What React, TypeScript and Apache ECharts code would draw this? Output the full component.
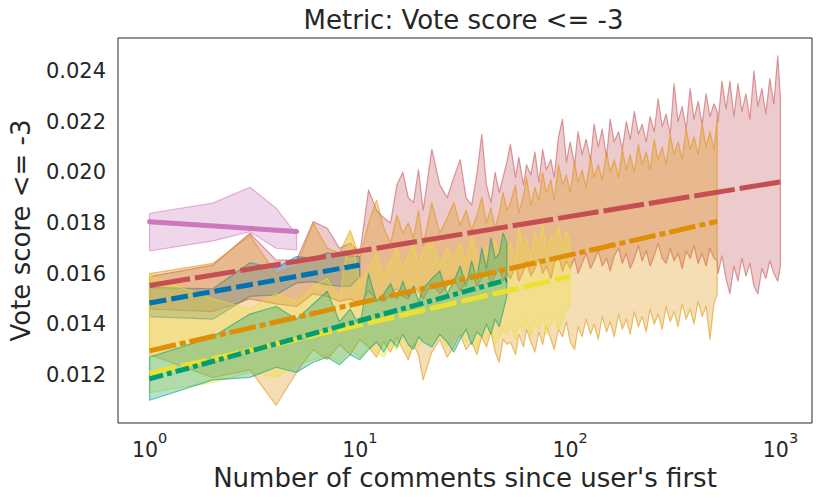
import React, { useEffect, useRef } from "react";
import * as echarts from "echarts";

const FONT = "DejaVu Sans";
const INK = "#262626";

const TITLE = "Metric: Vote score <= -3";
const X_NAME = "Number of comments since user's first";
const Y_NAME = "Vote score <= -3";

// series order: pink, red, blue, orange, yellow, green
const COLORS = ["#CC78BC", "#C44E52", "#0173B2", "#DE8F05", "#ECE133", "#029E73"];
const LINE_START_X = [1, 1, 1, 1, 1, 1];
const LINE_END_X = [5, 1000, 10, 500, 100, 50];
const LINE_START_Y = [0.01805, 0.01553, 0.01484, 0.01295, 0.01206, 0.01184];
const LINE_END_Y = [0.01766, 0.01962, 0.01634, 0.01806, 0.01589, 0.01575];
const LINE_DASH: (number[] | "solid")[] = ["solid", [41, 5], [17, 5], [27, 4, 6, 4], [27, 5], [14, 4, 5, 4]];

// x grids of the confidence bands
const X_INT = [1, 2, 3, 4, 5, 6, 7, 8, 9, 10, 11, 12, 13, 14, 15, 16, 17, 18, 19, 20];
const X_EVEN = [22, 24, 26, 28, 30, 32, 34, 36, 38, 40, 42, 44, 46, 48, 50];
const X_DENSE = [
  52, 55, 57, 60, 62, 65, 68, 71, 74, 77, 81, 84, 88, 92, 96, 100,
  105, 109, 114, 119, 125, 130, 136, 142, 149, 155, 162, 170, 177, 185, 193, 202, 211, 220, 230, 240,
  251, 262, 274, 286, 299, 312, 326, 341, 356, 372, 388, 406, 424, 443, 462, 483, 500,
  505, 527, 551, 575, 601, 628, 656, 685, 716, 748, 781, 816, 852, 890, 930, 971, 1000,
];

const PINK_X = [1, 2, 3, 4, 5];
const PINK_HI = [0.01838, 0.01878, 0.01941, 0.01858, 0.01753];
const PINK_LO = [0.01689, 0.01729, 0.01765, 0.017, 0.01693];

const BLUE_X = [1, 2, 3, 4, 5, 6, 7, 8, 9, 10];
const BLUE_HI = [0.01545, 0.0154, 0.01643, 0.01622, 0.01667, 0.0166, 0.01682, 0.01675, 0.0167, 0.01667];
const BLUE_LO = [0.0143, 0.0142, 0.0151, 0.01516, 0.01563, 0.01568, 0.01555, 0.0155, 0.01549, 0.01588];

const RED_X = [...X_INT, ...X_EVEN, ...X_DENSE];
const RED_HI = [
  0.01588, 0.01633, 0.01759, 0.01653, 0.01653, 0.01805, 0.01779, 0.017, 0.0172, 0.0168,
  0.0193, 0.0185, 0.0182, 0.018, 0.0195, 0.02, 0.019, 0.0188, 0.0201, 0.0185,
  0.0209, 0.0195, 0.019, 0.0198, 0.0205, 0.019, 0.0187, 0.0199, 0.0215, 0.0195, 0.0188, 0.02, 0.0192, 0.0198, 0.0204,
  0.0211, 0.0198, 0.0206, 0.0195, 0.0203, 0.0199, 0.0208, 0.0196, 0.0209, 0.0201, 0.0205, 0.0198, 0.0214, 0.0221, 0.0204, 0.0212,
  0.0203, 0.0216, 0.0207, 0.0213, 0.0205, 0.0219, 0.021, 0.0217, 0.0206, 0.0221,
  0.0212, 0.0216, 0.0209, 0.022, 0.0213, 0.0224, 0.0215, 0.0219, 0.0212, 0.0222,
  0.0216, 0.0229, 0.0218, 0.0223, 0.0215, 0.0235, 0.022, 0.0226, 0.0217, 0.0233,
  0.0221, 0.0228, 0.0219, 0.0231, 0.0222, 0.0227, 0.0224,
  0.022, 0.0236, 0.0225, 0.0236, 0.0222, 0.0235, 0.0224, 0.0231, 0.0221, 0.024,
  0.0226, 0.0233, 0.0223, 0.0237, 0.0227, 0.0246, 0.0229,
];
const RED_LO = [
  0.0146, 0.0145, 0.015, 0.0148, 0.0147, 0.0152, 0.0151, 0.0149, 0.015, 0.0148,
  0.0153, 0.015, 0.0149, 0.0152, 0.0154, 0.0151, 0.015, 0.0155, 0.0153, 0.015,
  0.0156, 0.0152, 0.0155, 0.0158, 0.0153, 0.0157, 0.016, 0.0155, 0.0158, 0.0161, 0.0156, 0.0159, 0.0162, 0.0157, 0.016,
  0.0158, 0.0163, 0.0157, 0.0161, 0.0165, 0.0159, 0.0162, 0.0166, 0.016, 0.0163, 0.0158, 0.0164, 0.0167, 0.0161, 0.0165, 0.0162,
  0.0166, 0.016, 0.0164, 0.0168, 0.0162, 0.0165, 0.0169, 0.0163, 0.0166, 0.0161,
  0.0167, 0.017, 0.0164, 0.0168, 0.0162, 0.0166, 0.0171, 0.0165, 0.0169, 0.0163,
  0.0167, 0.0172, 0.0166, 0.0164, 0.017, 0.0165, 0.0168, 0.0162, 0.0169, 0.0166,
  0.0171, 0.0164, 0.0168, 0.0163, 0.017, 0.0166, 0.0165,
  0.016, 0.0167, 0.0158, 0.0152, 0.0163, 0.0157, 0.0166, 0.0159, 0.0164, 0.0155,
  0.0152, 0.0162, 0.0158, 0.0165, 0.016, 0.0157, 0.0163,
];

const ORANGE_X = [...X_INT, ...X_EVEN, ...X_DENSE.slice(0, 53)];
const ORANGE_HI = [
  0.016, 0.0164, 0.0175, 0.016, 0.0163, 0.018, 0.017, 0.0168, 0.0177, 0.0166,
  0.018, 0.0189, 0.0178, 0.0172, 0.0183, 0.0176, 0.018, 0.0174, 0.0185, 0.0171,
  0.0188, 0.0176, 0.0182, 0.0188, 0.0179, 0.0185, 0.0177, 0.0183, 0.019, 0.018, 0.0186, 0.0178, 0.0184, 0.0192, 0.0185,
  0.0188, 0.0195, 0.0184, 0.0191, 0.0198, 0.0187, 0.0194, 0.0189, 0.02, 0.0192,
  0.0197, 0.0189, 0.0203, 0.0195, 0.0199, 0.0192, 0.0204, 0.0196, 0.0201, 0.0194,
  0.0206, 0.0198, 0.0203, 0.0197, 0.0208, 0.02, 0.0205, 0.0198, 0.0209, 0.0201,
  0.0207, 0.02, 0.0211, 0.0203, 0.0208, 0.0201, 0.0213, 0.0205, 0.021, 0.0203,
  0.0215, 0.0207, 0.0212, 0.0205, 0.0217, 0.0209, 0.0214, 0.0207, 0.0219, 0.021,
  0.0216, 0.0209, 0.0221,
];
const ORANGE_LO = [
  0.0128, 0.0119, 0.0122, 0.0108, 0.0121, 0.013, 0.0126, 0.0132, 0.0128, 0.0134,
  0.0131, 0.0127, 0.0133, 0.0129, 0.0135, 0.013, 0.0126, 0.0132, 0.0128, 0.0118,
  0.0129, 0.0134, 0.0127, 0.0131, 0.0136, 0.013, 0.0133, 0.0128, 0.0135, 0.0131, 0.0137, 0.0129, 0.0125, 0.0134, 0.0132,
  0.0133, 0.0128, 0.0136, 0.0131, 0.0138, 0.0133, 0.0129, 0.0137, 0.0132, 0.0139,
  0.0134, 0.013, 0.0138, 0.0135, 0.0141, 0.0133, 0.013, 0.0139, 0.0135, 0.0142,
  0.0136, 0.014, 0.0134, 0.0143, 0.0137, 0.0141, 0.0135, 0.0144, 0.0138, 0.0142,
  0.0136, 0.0145, 0.0139, 0.0143, 0.0137, 0.0146, 0.014, 0.0144, 0.0138, 0.0147,
  0.0141, 0.0145, 0.0139, 0.0148, 0.0142, 0.0146, 0.014, 0.0149, 0.0143, 0.0147,
  0.0134, 0.0148, 0.0152,
];

const YELLOW_X = [...X_INT, ...X_EVEN, ...X_DENSE.slice(0, 16)];
const YELLOW_HI = [
  0.0159, 0.015, 0.0146, 0.0152, 0.0149, 0.0155, 0.0158, 0.015, 0.0177, 0.0156,
  0.0162, 0.0168, 0.0159, 0.0165, 0.017, 0.0161, 0.0167, 0.0172, 0.0163, 0.0169,
  0.0174, 0.0163, 0.017, 0.0166, 0.0172, 0.0164, 0.0175, 0.0168, 0.0162, 0.0171, 0.0166, 0.0173, 0.0167, 0.0176, 0.0169,
  0.0172, 0.0165, 0.0178, 0.0169, 0.0174, 0.0166, 0.0176, 0.017, 0.018, 0.0168, 0.0175, 0.0171, 0.0179, 0.0169, 0.0177, 0.0173,
];
const YELLOW_LO = [
  0.0113, 0.0117, 0.0121, 0.0119, 0.0124, 0.0126, 0.0128, 0.0125, 0.013, 0.0127,
  0.0131, 0.0129, 0.0127, 0.0132, 0.013, 0.0134, 0.0128, 0.0133, 0.0131, 0.0135,
  0.0132, 0.0136, 0.0131, 0.0134, 0.0138, 0.0133, 0.0136, 0.013, 0.0137, 0.0134, 0.0139, 0.0132, 0.0135, 0.0138, 0.0136,
  0.0139, 0.0134, 0.014, 0.0137, 0.0142, 0.0135, 0.0141, 0.0138, 0.0143, 0.0136, 0.014, 0.0144, 0.0138, 0.0142, 0.0146, 0.0147,
];

const GREEN_X = [...X_INT, ...X_EVEN];
const GREEN_HI = [
  0.0127, 0.0135, 0.0144, 0.0147, 0.0142, 0.0148, 0.0153, 0.0141, 0.0146, 0.0139,
  0.016, 0.0149, 0.0152, 0.0156, 0.015, 0.0157, 0.0151, 0.0155, 0.0149, 0.0154,
  0.0158, 0.0161, 0.0152, 0.0157, 0.0163, 0.0155, 0.0165, 0.0158, 0.017, 0.0162, 0.0174, 0.0166, 0.0168, 0.0176, 0.0172,
];
const GREEN_LO = [
  0.011, 0.0118, 0.0119, 0.0123, 0.0121, 0.0125, 0.0127, 0.0124, 0.0128, 0.0126,
  0.013, 0.0133, 0.0129, 0.0134, 0.0131, 0.0136, 0.0132, 0.013, 0.0135, 0.0133,
  0.0131, 0.0136, 0.0133, 0.0129, 0.0134, 0.0138, 0.0132, 0.0137, 0.0135, 0.014, 0.0136, 0.0142, 0.0139, 0.0145, 0.0151,
];

const BANDS_X = [PINK_X, RED_X, BLUE_X, ORANGE_X, YELLOW_X, GREEN_X];
const BANDS_HI = [PINK_HI, RED_HI, BLUE_HI, ORANGE_HI, YELLOW_HI, GREEN_HI];
const BANDS_LO = [PINK_LO, RED_LO, BLUE_LO, ORANGE_LO, YELLOW_LO, GREEN_LO];

const Y_TICK_MIN = 0.0101;
const Y_TICK_MAX = 0.0253;
const X_LOG_MIN = -0.15;
const X_LOG_MAX = 3.15;

function rgba(hex: string, a: number) {
  const n = parseInt(hex.slice(1), 16);
  return `rgba(${(n >> 16) & 255},${(n >> 8) & 255},${n & 255},${a})`;
}

export default function App() {
  const ref = useRef<HTMLDivElement>(null);
  useEffect(() => {
    document.body.style.margin = "0";
    if (!ref.current) return;
    const chart = echarts.init(ref.current, undefined, { renderer: "svg" });

    const bandSeries = BANDS_X.map((xs, k) => {
      const hi = BANDS_HI[k];
      const lo = BANDS_LO[k];
      const color = COLORS[k];
      return {
        type: "custom",
        coordinateSystem: "cartesian2d",
        silent: true,
        z: 1,
        data: [[xs[0], lo[0]]],
        renderItem: (_params: any, api: any) => {
          const pts: number[][] = [];
          for (let i = 0; i < xs.length; i++) pts.push(api.coord([xs[i], hi[i]]));
          for (let i = xs.length - 1; i >= 0; i--) pts.push(api.coord([xs[i], lo[i]]));
          return {
            type: "polygon",
            shape: { points: pts },
            style: { fill: rgba(color, 0.3), stroke: rgba(color, 0.55), lineWidth: 1.2, lineJoin: "round" },
          };
        },
      };
    });

    const lineSeries = COLORS.map((color, k) => ({
      type: "line",
      silent: true,
      z: 3,
      symbol: "none",
      data: [
        [LINE_START_X[k], LINE_START_Y[k]],
        [LINE_END_X[k], LINE_END_Y[k]],
      ],
      lineStyle: {
        color,
        width: 5,
        type: LINE_DASH[k],
        cap: LINE_DASH[k] === "solid" ? "round" : "butt",
      },
    }));

    chart.setOption({
      animation: false,
      title: {
        text: TITLE,
        left: 463.5,
        top: 7,
        padding: 0,
        textAlign: "center",
        textStyle: { fontFamily: FONT, fontSize: 26, fontWeight: "normal", color: INK },
      },
      grid: {
        left: 115,
        top: 38,
        width: 697,
        height: 385,
        show: true,
        borderColor: INK,
        borderWidth: 1,
        backgroundColor: "transparent",
      },
      xAxis: {
        type: "log",
        logBase: 10,
        min: Math.pow(10, X_LOG_MIN),
        max: Math.pow(10, X_LOG_MAX),
        axisLine: { show: false },
        axisTick: { show: false },
        splitLine: { show: false },
        axisLabel: {
          showMinLabel: false,
          showMaxLabel: false,
          margin: 7,
          formatter: (v: number) => `{b|10}{s|${Math.round(Math.log10(v))}}`,
          rich: {
            b: { fontFamily: FONT, fontSize: 20.5, color: INK, lineHeight: 30, verticalAlign: "bottom" },
            s: { fontFamily: FONT, fontSize: 14.5, color: INK, lineHeight: 14, verticalAlign: "top" },
          },
        },
        name: X_NAME,
        nameLocation: "middle",
        nameGap: 38,
        nameTextStyle: { fontFamily: FONT, fontSize: 26, color: INK },
      },
      yAxis: {
        type: "value",
        min: Y_TICK_MIN,
        max: Y_TICK_MAX,
        splitNumber: 7,
        axisLine: { show: false },
        axisTick: { show: false },
        splitLine: { show: false },
        axisLabel: {
          showMinLabel: false,
          showMaxLabel: false,
          margin: 12,
          fontFamily: FONT,
          fontSize: 21,
          color: INK,
          formatter: (v: number) => v.toFixed(3),
        },
        name: Y_NAME,
        nameLocation: "middle",
        nameGap: 84,
        nameTextStyle: { fontFamily: FONT, fontSize: 26, color: INK },
      },
      series: [...bandSeries, ...lineSeries],
    });
    return () => chart.dispose();
  }, []);
  return <div ref={ref} style={{ width: 822, height: 499 }} />;
}
